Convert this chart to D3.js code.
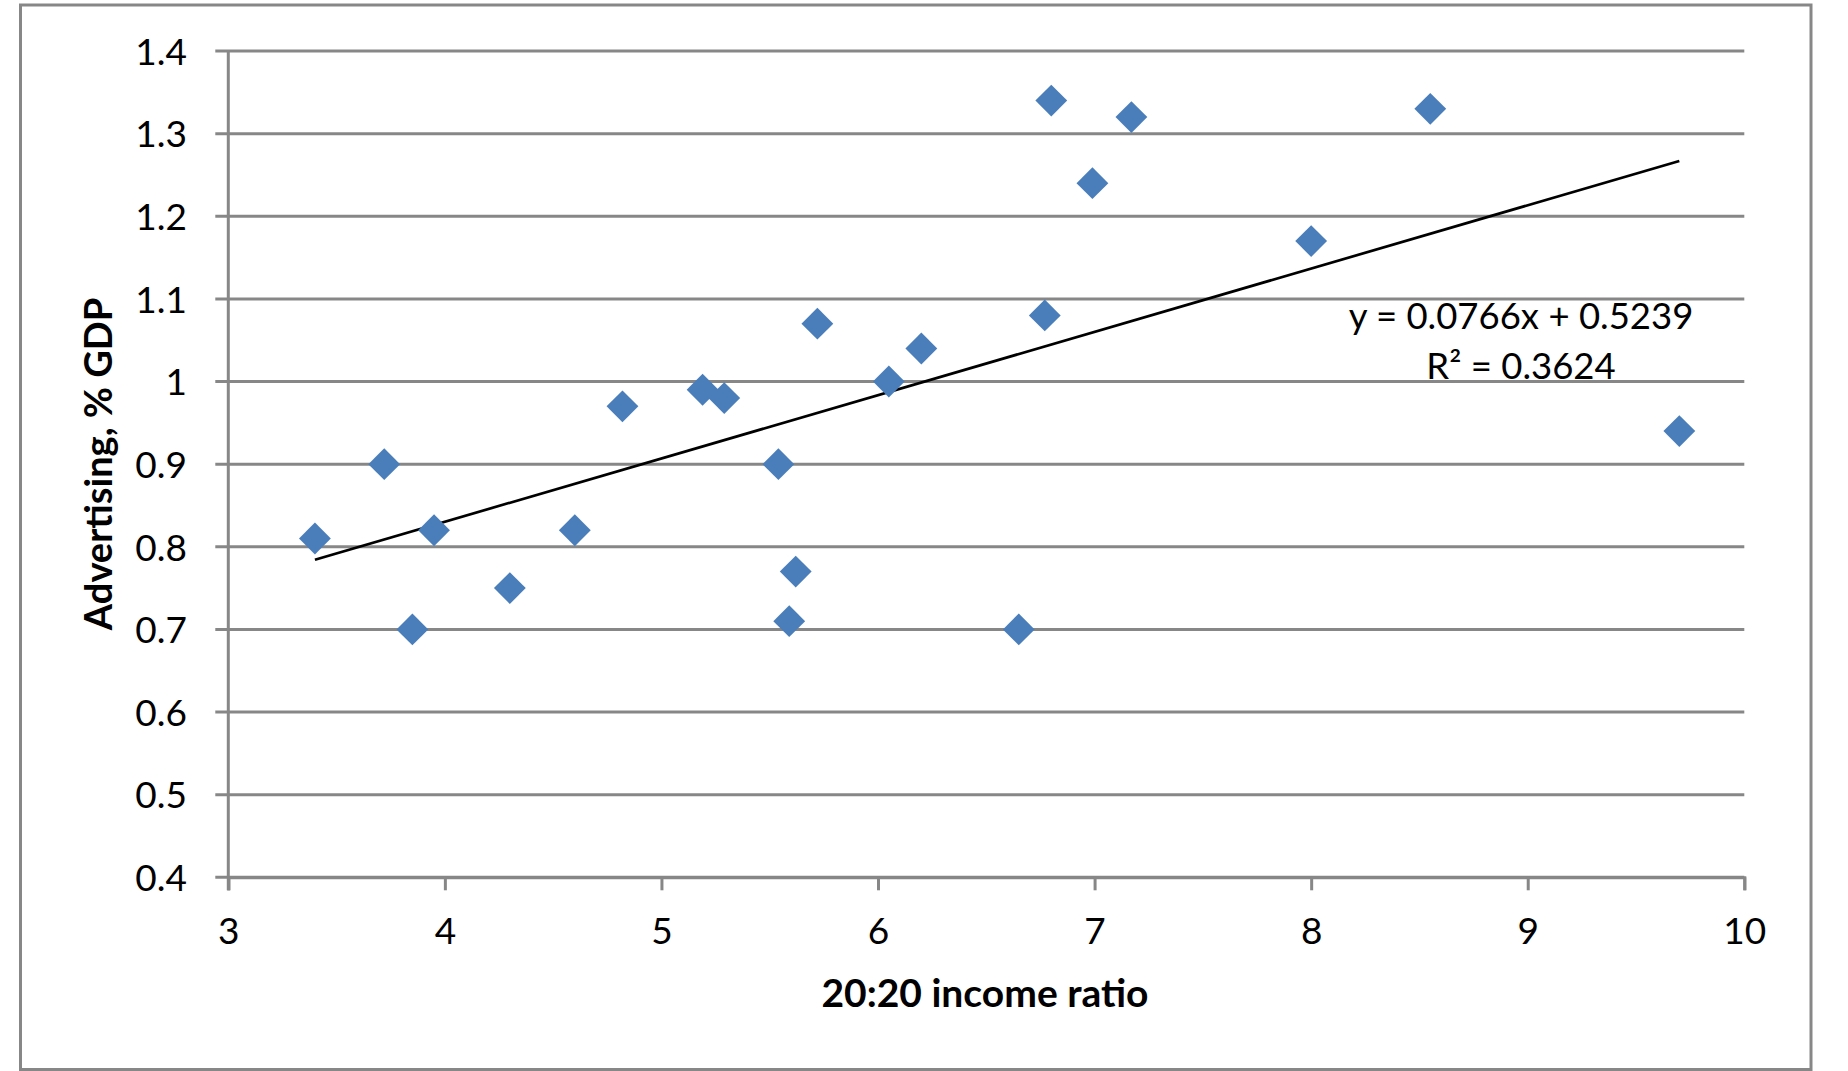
<!DOCTYPE html>
<html>
<head>
<meta charset="utf-8">
<script src="https://cdn.jsdelivr.net/npm/d3@7"></script>
<style>
  html, body { margin: 0; padding: 0; background: #fff; }
  svg { display: block; }
  text { font-family: Lato, "Open Sans", sans-serif; fill: #000; }
</style>
</head>
<body>
<svg id="chart" width="1848" height="1071"></svg>
<script>
// ---- data ----
const incomeRatio = [3.40, 3.72, 3.85, 3.95, 4.30, 4.60, 4.82, 5.19, 5.29, 5.54, 5.59, 5.62, 5.72, 6.05, 6.20, 6.65, 6.77, 6.80, 6.99, 7.17, 8.00, 8.55, 9.70];
const advertising = [0.81, 0.90, 0.70, 0.82, 0.75, 0.82, 0.97, 0.99, 0.98, 0.90, 0.71, 0.77, 1.07, 1.00, 1.04, 0.70, 1.08, 1.34, 1.24, 1.32, 1.17, 1.33, 0.94];
const xTicks = [3, 4, 5, 6, 7, 8, 9, 10];
const yTicks = [0.4, 0.5, 0.6, 0.7, 0.8, 0.9, 1.0, 1.1, 1.2, 1.3, 1.4];
const trendSlope = 0.0766;
const trendIntercept = 0.5239;
const trendRange = [3.40, 9.70];
const equationLines = ["y = 0.0766x + 0.5239", "R² = 0.3624"];
const xTitle = "20:20 income ratio";
const yTitle = "Advertising, % GDP";

(function () {
// ---- layout ----
const svg = d3.select("#chart");
const grey = "#878787";
const pLeft = 228.3, pRight = 1744.3, pTop = 51, pBottom = 877.3;
const tickLen = 13;

const x = d3.scaleLinear().domain([3, 10]).range([pLeft, pRight]);
const y = d3.scaleLinear().domain([0.4, 1.4]).range([pBottom, pTop]);

// outer border
svg.append("rect")
  .attr("x", 20.5).attr("y", 5).attr("width", 1790.5).attr("height", 1064.5)
  .attr("fill", "none").attr("stroke", grey).attr("stroke-width", 3);

// horizontal gridlines + y tick marks
svg.append("g").selectAll("line").data(yTicks).join("line")
  .attr("x1", pLeft - tickLen).attr("x2", pRight)
  .attr("y1", d => y(d)).attr("y2", d => y(d))
  .attr("stroke", grey).attr("stroke-width", 3);

// y axis
const yAxis = d3.axisLeft(y).tickValues(yTicks).tickSize(0).tickPadding(0)
  .tickFormat(d => String(+d.toFixed(1)));
const gy = svg.append("g").attr("transform", `translate(${pLeft},0)`).call(yAxis);
gy.select(".domain").remove();
gy.selectAll("text")
  .attr("x", 187 - pLeft).attr("dy", "0.36em")
  .style("font-size", "37px").style("font-family", "Lato, sans-serif").attr("fill", "#000");

// y axis line (extends to tick length below)
svg.append("line")
  .attr("x1", pLeft).attr("x2", pLeft).attr("y1", pTop).attr("y2", pBottom + tickLen)
  .attr("stroke", grey).attr("stroke-width", 3);

// x axis
const xAxis = d3.axisBottom(x).tickValues(xTicks).tickSize(tickLen).tickPadding(0).tickFormat(d3.format("d"));
const gx = svg.append("g").attr("transform", `translate(0,${pBottom})`).call(xAxis);
gx.select(".domain").attr("stroke", grey).attr("stroke-width", 3);
gx.selectAll(".tick line").attr("stroke", grey).attr("stroke-width", 3);
gx.selectAll("text")
  .attr("y", 944 - pBottom).attr("dy", 0)
  .style("font-size", "37px").style("font-family", "Lato, sans-serif").attr("fill", "#000");

// trendline
svg.append("line")
  .attr("x1", x(trendRange[0])).attr("y1", y(trendSlope * trendRange[0] + trendIntercept))
  .attr("x2", x(trendRange[1])).attr("y2", y(trendSlope * trendRange[1] + trendIntercept))
  .attr("stroke", "#000").attr("stroke-width", 2.7);

// diamonds
const pts = incomeRatio.map((v, i) => ({ x: v, y: advertising[i] }));
const sym = d3.symbol().type(d3.symbolSquare).size(22.5 * 22.5);
svg.append("g").selectAll("path").data(pts).join("path")
  .attr("d", sym)
  .attr("transform", d => `translate(${x(d.x)},${y(d.y)}) rotate(45)`)
  .attr("fill", "#4a7ebb");

// equation label
svg.append("text").attr("x", 1521).attr("y", 329).attr("text-anchor", "middle")
  .style("font-size", "36.5px").text(equationLines[0]);
svg.append("text").attr("x", 1521).attr("y", 379).attr("text-anchor", "middle")
  .style("font-size", "36.5px").text(equationLines[1]);

// axis titles
svg.append("text").attr("x", 985).attr("y", 1007).attr("text-anchor", "middle")
  .style("font-size", "39px").style("font-weight", "bold").text(xTitle);
svg.append("text")
  .attr("transform", "translate(112,464) rotate(-90)")
  .attr("text-anchor", "middle")
  .style("font-size", "38px").style("font-weight", "bold").text(yTitle);
})();
</script>
</body>
</html>
